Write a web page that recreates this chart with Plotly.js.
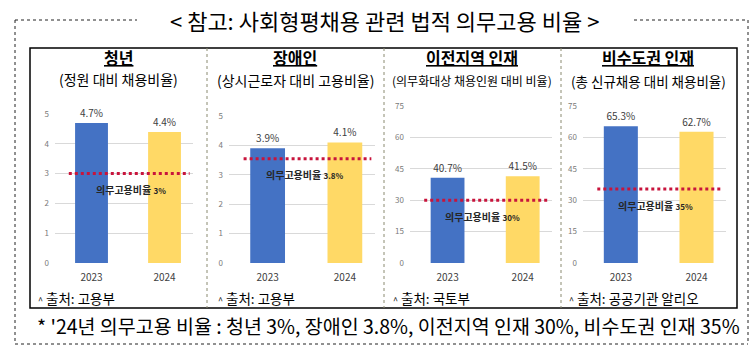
<!DOCTYPE html>
<html><head><meta charset="utf-8">
<script src="https://cdn.plot.ly/plotly-3.0.1.min.js"></script>
<style>html,body{margin:0;padding:0;background:#fff;}#chart{width:756px;height:348px;}</style>
</head><body><div id="chart"></div>
<script>
const years = ['2023', '2024'];
const youthRate = [4.7, 4.4];
const disabledRate = [3.9, 4.1];
const relocatedRate = [40.7, 41.5];
const nonCapitalRate = [65.3, 62.7];
const mandateLine = [3, 3.55, 30, 35.3];
const mandateLabels = ['3%', '3.8%', '30%', '35%'];
const panelTitles = ['청년', '장애인', '이전지역 인재', '비수도권 인재'];
const panelSubtitles = ['(정원 대비 채용비율)', '(상시근로자 대비 고용비율)', '(의무화대상 채용인원 대비 비율)', '(총 신규채용 대비 채용비율)'];
const sources = ['고용부', '고용부', '국토부', '공공기관 알리오'];
const yTicks = [[0,1,2,3,4,5],[0,1,2,3,4,5],[0,15,30,45,60,75],[0,15,30,45,60,75]];
const yMax = [5, 5, 75, 75];
const barColors = ['#4472C4', '#FFD966'];
const mainTitle = '&lt; 참고: 사회형평채용 관련 법적 의무고용 비율 &gt;';
const footnote = "* '24년 의무고용 비율 : 청년 3%, 장애인 3.8%, 이전지역 인재 30%, 비수도권 인재 35%";

const seriesList = [youthRate, disabledRate, relocatedRate, nonCapitalRate];

const W = 756, H = 348;
const px = x => x / W;
const py = y => 1 - y / H;
const FONT = '"Noto Sans CJK KR", "Noto Sans", sans-serif';

// layout geometry (pixels)
const geo = [
  {x0: 55,  x1: 193, y0: 263, y1: 114, tx: 118, sub: 79, subSize: 14,   src: 36,  mx: 0.55},
  {x0: 229, x1: 375, y0: 263, y1: 116, tx: 295, sub: 80, subSize: 14,   src: 216, mx: 0.52},
  {x0: 410, x1: 552, y0: 263, y1: 106, tx: 472, sub: 81, subSize: 12,   src: 391, mx: 0.51},
  {x0: 583, x1: 726, y0: 263, y1: 106, tx: 648, sub: 81, subSize: 13.5, src: 567, mx: 0.51}
];

const traces = [];
const layout = {
  width: W, height: H,
  margin: {l: 0, r: 0, t: 0, b: 0},
  paper_bgcolor: '#fff', plot_bgcolor: 'rgba(0,0,0,0)',
  showlegend: false,
  bargap: 0.55,
  font: {family: FONT, color: '#404040'},
  shapes: [], annotations: []
};

const ann = (o) => Object.assign({showarrow: false, xanchor: 'center', yanchor: 'middle'}, o);

seriesList.forEach((vals, i) => {
  const n = i === 0 ? '' : String(i + 1);
  const g = geo[i];
  traces.push({
    type: 'bar', x: years, y: vals,
    xaxis: 'x' + n, yaxis: 'y' + n,
    marker: {color: barColors},
    text: vals.map(v => v.toFixed(1) + '%'),
    textposition: 'outside', cliponaxis: false, constraintext: 'none',
    textfont: {size: 10, color: '#404040', family: FONT},
    hoverinfo: 'skip'
  });
  layout['xaxis' + n] = {
    domain: [px(g.x0), px(g.x1)], anchor: 'y' + n,
    type: 'category', range: [-0.5, 1.39],
    showgrid: false, zeroline: false, showline: false, ticks: '',
    tickfont: {size: 10, color: '#404040', family: FONT},
    ticklabelstandoff: 7, fixedrange: true
  };
  layout['yaxis' + n] = {
    domain: [py(g.y0), py(g.y1)], anchor: 'x' + n,
    range: [0, yMax[i]], tickvals: yTicks[i],
    showgrid: true, gridcolor: '#d9d9d9', gridwidth: 1,
    zeroline: false, showline: false, ticks: '',
    tickfont: {size: 8, color: '#7a7a7a', family: FONT},
    ticklabelstandoff: 5, fixedrange: true
  };
  // mandate reference line
  layout.shapes.push({
    type: 'line', xref: 'x' + n + ' domain', yref: 'y' + n,
    x0: 0.1, x1: 0.975, y0: mandateLine[i], y1: mandateLine[i],
    line: {color: '#C8143C', width: 3, dash: 'dot'}
  });
  layout.annotations.push(ann({
    xref: 'x' + n + ' domain', yref: 'y' + n, x: g.mx, y: mandateLine[i],
    yshift: -16,
    text: '<b>의무고용비율 <span style="font-size:8px">' + mandateLabels[i] + '</span></b>',
    font: {size: 10, color: '#262626', family: FONT}
  }));
  // panel title & subtitle
  layout.annotations.push(ann({
    xref: 'paper', yref: 'paper', x: px(g.tx), y: py(57),
    text: '<b><u>' + panelTitles[i] + '</u></b>',
    font: {size: 16, color: '#000', family: FONT}
  }));
  layout.annotations.push(ann({
    xref: 'paper', yref: 'paper', x: px(g.tx), y: py(g.sub),
    text: panelSubtitles[i],
    font: {size: g.subSize, color: '#000', family: FONT}
  }));
  // source
  layout.annotations.push(ann({
    xref: 'paper', yref: 'paper', x: px(g.src), y: py(298), xanchor: 'left',
    text: '<span style="font-size:9px">^</span> 출처: ' + sources[i],
    font: {size: 13.5, color: '#000', family: FONT}
  }));
});

// frames
const dotLine = {color: '#222', width: 1, dash: 'dot'};
const pl = (x0, y0, x1, y1, line) => ({type: 'line', xref: 'paper', yref: 'paper', x0: px(x0), y0: py(y0), x1: px(x1), y1: py(y1), line});
layout.shapes.push(
  pl(15, 20, 137, 20, dotLine), pl(634, 20, 748, 20, dotLine),
  pl(15, 20, 15, 344, dotLine), pl(748, 20, 748, 344, dotLine),
  pl(15, 344, 748, 344, dotLine),
  {type: 'rect', xref: 'paper', yref: 'paper', x0: px(30), y0: py(308), x1: px(737), y1: py(48), line: {color: '#000', width: 1.5}},
  pl(207, 48, 207, 308, {color: '#8a8a70', width: 1, dash: 'dot'}),
  pl(384, 48, 384, 308, {color: '#8a8a70', width: 1, dash: 'dot'}),
  pl(561, 48, 561, 308, {color: '#8a8a70', width: 1, dash: 'dot'})
);

layout.annotations.push(
  ann({xref: 'paper', yref: 'paper', x: px(384), y: py(20),
   text: mainTitle, font: {size: 22, color: '#000', family: FONT}}),
  ann({xref: 'paper', yref: 'paper', x: px(388), y: py(325),
   text: footnote, font: {size: 19.5, color: '#000', family: FONT}})
);

Plotly.newPlot('chart', traces, layout, {staticPlot: true, displayModeBar: false});
</script>
</body></html>
